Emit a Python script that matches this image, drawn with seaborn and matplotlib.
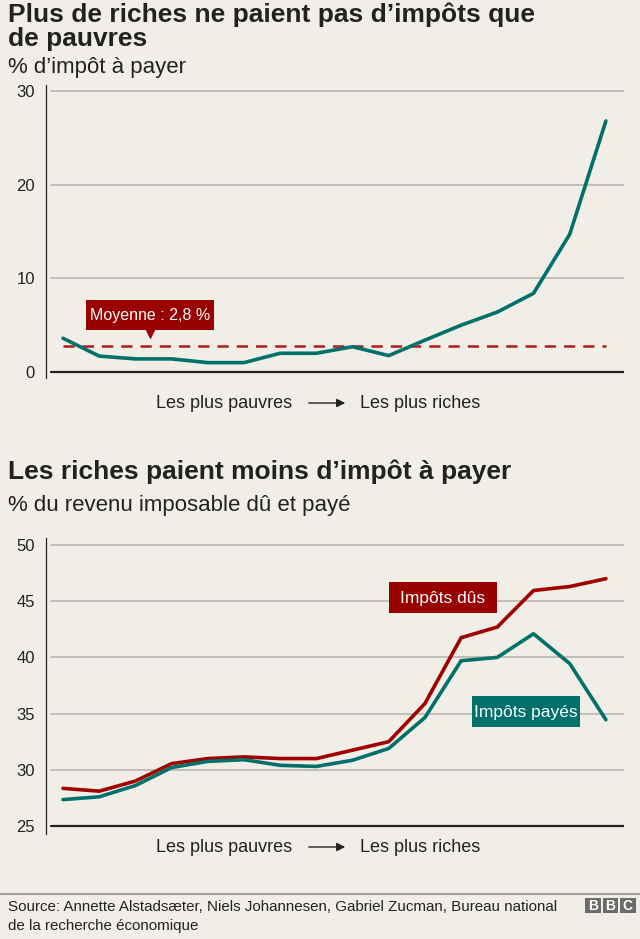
import matplotlib
matplotlib.use("Agg")
import matplotlib.pyplot as plt
import seaborn as sns
import pandas as pd
from matplotlib.patches import Rectangle, FancyArrowPatch

# values (16 income groups, poorest -> richest)
groups = list(range(16))
tax_share = [3.6, 1.7, 1.4, 1.4, 1.0, 1.0, 2.0, 2.0, 2.7, 1.75, 3.4, 5.0, 6.4, 8.4, 14.7, 26.8]
mean_tax = 2.8

tax_due = [28.35, 28.1, 29.0, 30.55, 31.0, 31.15, 31.0, 31.0, 31.75, 32.5, 35.9, 41.75, 42.7, 45.95, 46.3, 47.0]
tax_paid = [27.35, 27.6, 28.6, 30.2, 30.75, 30.9, 30.4, 30.3, 30.85, 31.9, 34.65, 39.7, 40.0, 42.1, 39.45, 34.45]

top_ticks = [0, 10, 20, 30]
bottom_ticks = [25, 30, 35, 40, 45, 50]

BG = "#f0eee6"
TEAL = "#00706b"
RED = "#990000"
DASH = "#b01c1c"
GRID = "#bdbbb5"
DARK = "#222222"
TXT = "#222222"

sns.set_style("white")
plt.rcParams["font.family"] = ["Liberation Sans", "DejaVu Sans"]

W, H = 640, 939
fig = plt.figure(figsize=(6.4, 9.39), dpi=100, facecolor=BG)


def px(x, y):
    return x / W, 1 - y / H


def fig_text(x, y, s, **kw):
    fx, fy = px(x, y)
    fig.text(fx, fy, s, **kw)


def label_box(x0, y0, x1, y1, s, color, size):
    # coloured label box given in pixel coords of the figure
    fx, fy = px(x0, y1)
    fig.add_artist(Rectangle((fx, fy), (x1 - x0) / W, (y1 - y0) / H,
                             transform=fig.transFigure, fc=color, ec="none", zorder=5))
    fig_text((x0 + x1) / 2, (y0 + y1) / 2 + 0.5, s, color="white", fontsize=size,
             ha="center", va="center", zorder=6)


def style_axes(ax, ticks, base):
    ax.set_facecolor(BG)
    for side in ["top", "right", "bottom"]:
        ax.spines[side].set_visible(False)
    ax.spines["left"].set_color(DARK)
    ax.spines["left"].set_linewidth(0.9)
    ax.set_yticks(ticks)
    ax.set_xticks([])
    ax.tick_params(axis="y", length=0, pad=8, labelsize=12, labelcolor=TXT)
    for t in ticks:
        if t == base:
            ax.axhline(t, xmin=0.008, color=DARK, lw=1.6, zorder=1)
        else:
            ax.axhline(t, xmin=0.008, color=GRID, lw=1.3, zorder=1)
    ax.set_xlim(-0.47, 15.5)
    ax.set_xlabel("")
    ax.set_ylabel("")


# ---- top chart
ax1 = fig.add_axes([46 / W, 1 - 378 / H, (624 - 46) / W, (378 - 85) / H])
ax1.set_ylim(-0.64, 30.64)
style_axes(ax1, top_ticks, 0)
ax1.plot([groups[0], groups[-1]], [mean_tax, mean_tax], color=DASH, lw=1.8,
         dashes=(4.5, 3.2), zorder=2)
sns.lineplot(x=groups, y=tax_share, ax=ax1, color=TEAL, lw=2.6, zorder=3)
label_box(86, 300, 214, 330, "Moyenne : 2,8 %", RED, 11.5)
ax1.plot([2.4], [4.2], marker="v", ms=9, color=RED, mec="none", zorder=5)

# ---- bottom chart
ax2 = fig.add_axes([46 / W, 1 - 834 / H, (624 - 46) / W, (834 - 538) / H])
ax2.set_ylim(24.29, 50.62)
style_axes(ax2, bottom_ticks, 25)
df = pd.DataFrame({"groupe": groups, "dus": tax_due, "payes": tax_paid})
sns.lineplot(data=df, x="groupe", y="dus", ax=ax2, color="#a00000", lw=2.6, zorder=3)
sns.lineplot(data=df, x="groupe", y="payes", ax=ax2, color=TEAL, lw=2.6, zorder=3)
ax2.set_xlabel("")
ax2.set_ylabel("")
label_box(389, 582, 497, 613, "Impôts dûs", RED, 12.5)
label_box(472, 696, 580, 727, "Impôts payés", TEAL, 12.5)

# ---- titles
fig_text(8, 15, "Plus de riches ne paient pas d’impôts que", fontsize=19,
         fontweight="bold", color=TXT, va="center")
fig_text(8, 39, "de pauvres", fontsize=19, fontweight="bold", color=TXT, va="center")
fig_text(8, 67, "% d’impôt à payer", fontsize=16, color=TXT, va="center")
fig_text(8, 472, "Les riches paient moins d’impôt à payer", fontsize=19,
         fontweight="bold", color=TXT, va="center")
fig_text(8, 506, "% du revenu imposable dû et payé", fontsize=16, color=TXT, va="center")

# ---- axis direction labels
for yy in (403, 847):
    fig_text(292, yy, "Les plus pauvres", fontsize=13, color=TXT, ha="right", va="center")
    fig_text(360, yy, "Les plus riches", fontsize=13, color=TXT, ha="left", va="center")
    fig.add_artist(FancyArrowPatch(
        px(306, yy), px(348, yy), transform=fig.transFigure,
        arrowstyle="-|>,head_length=5,head_width=2.5", mutation_scale=1,
        color=TXT, lw=1.0))

# ---- footer
fig.add_artist(plt.Line2D([0, 1], [px(0, 894)[1]] * 2, transform=fig.transFigure,
                          color="#a3a19c", lw=1.5))
fig_text(8, 907, "Source: Annette Alstadsæter, Niels Johannesen, Gabriel Zucman, Bureau national",
         fontsize=10.9, color=TXT, va="center")
fig_text(8, 926, "de la recherche économique", fontsize=10.9, color=TXT, va="center")
for i, letter in enumerate("BBC"):
    x0 = 585 + i * 17.5
    fx, fy = px(x0, 913)
    fig.add_artist(Rectangle((fx, fy), 15.5 / W, 15.5 / H, transform=fig.transFigure,
                             fc="#6b6b6b", ec="none"))
    fig_text(x0 + 7.75, 905.5, letter, fontsize=10, fontweight="bold", color="white",
             ha="center", va="center")

fig.savefig("out.png", dpi=100, facecolor=BG)
